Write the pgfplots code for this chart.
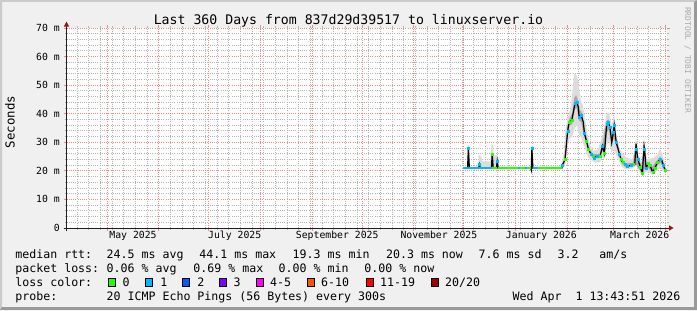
\documentclass[border=0pt]{standalone}
\usepackage{pgfplots}
\pgfplotsset{compat=1.18}
\usepackage{fontspec}
\setmainfont{DejaVu Sans Mono}
\usetikzlibrary{arrows.meta}

\definecolor{bg}{HTML}{F0F0F0}
\definecolor{shadea}{HTML}{CBCBCB}
\definecolor{shadeb}{HTML}{999999}
\definecolor{mgrid}{HTML}{F08888}
\definecolor{sgrid}{HTML}{B4B4B4}
\definecolor{arrowc}{HTML}{A01010}
\definecolor{axisc}{HTML}{202020}
\definecolor{lc0}{HTML}{26FF00}
\definecolor{lc1}{HTML}{00B8FF}
\definecolor{lc2}{HTML}{0059FF}
\definecolor{lc3}{HTML}{7E00FF}
\definecolor{lc4}{HTML}{FF00FF}
\definecolor{lc6}{HTML}{FF5500}
\definecolor{lc11}{HTML}{FF0000}
\definecolor{lc20}{HTML}{A10000}
\definecolor{smokeA}{HTML}{DCDCDC}
\definecolor{smokeB}{HTML}{A8A8A8}
\definecolor{wmark}{HTML}{AAAAAA}

\newcommand\titlef{\fontsize{13.2bp}{15bp}\selectfont}
\newcommand\tickf{\fontsize{9.8bp}{11bp}\selectfont}
\newcommand\legf{\fontsize{11.6bp}{13bp}\selectfont}
\newcommand\unitf{\fontsize{12.4bp}{14bp}\selectfont}
\newcommand\wmf{\fontsize{8bp}{9bp}\selectfont}

\begin{document}
\begin{tikzpicture}[x=1bp,y=1bp]
\fill[bg] (0,0) rectangle (697,310);
\fill[shadea] (0,0) -- (0,310) -- (697,310) -- (694,308) -- (2,308) -- (2,3) -- cycle;
\fill[shadeb] (0,0) -- (697,0) -- (697,310) -- (694,308) -- (694,3) -- (2,3) -- cycle;

\begin{axis}[
  at={(66.5bp,82bp)}, anchor=south west,
  scale only axis, width=600bp, height=200bp,
  xmin=0.572, xmax=360.572, ymin=0, ymax=70,
  axis background/.style={fill=white},
  axis line style={draw=none},
  clip=false,
  tick align=outside,
  major tick length=3bp, minor tick length=2bp,
  every major tick/.append style={mgrid, solid, line width=0.8bp},
  every minor tick/.append style={sgrid, solid, line width=0.8bp},
  every major grid/.append style={mgrid, line width=0.9bp, dash pattern=on 1bp off 1.2bp},
  every minor grid/.append style={sgrid, line width=0.9bp, dash pattern=on 1bp off 1.2bp},
  xtick={25,56,86,117,148,178,209,239,270,301,329,360},
  xticklabels={},
  minor xtick={7,14,...,357},
  xmajorgrids=true, xminorgrids=true,
  extra x ticks={40.5,101.5,163,224,285.5,344.5},
  extra x tick labels={May 2025,July 2025,September 2025,November 2025,January 2026,March 2026},
  extra x tick style={xmajorgrids=false, major tick length=0pt, tick style={draw=none}},
  xticklabel style={font=\tickf, anchor=base, inner sep=0pt, yshift=-10bp},
  ytick={0,10,20,30,40,50,60,70},
  yticklabels={0,10 m,20 m,30 m,40 m,50 m,60 m,70 m},
  minor y tick num=4,
  ymajorgrids=true, yminorgrids=true,
  yticklabel style={font=\tickf, anchor=east, inner sep=0pt, xshift=-3.5bp},
  unbounded coords=jump,
]
% outer smoke
\addplot[fill=smokeA, draw=none] coordinates {
(238.6,21.4)(241.2,21.4)(241.4,29.3)(242.2,29.0)(242.5,21.4)(247.6,21.4)(247.9,25.8)(249.3,25.0)(250.3,23.3)(254.9,23.3)(255.5,29.3)(256.5,29.0)(257.0,25.2)(258.8,25.5)(259.8,24.5)(260.3,21.4)(279.2,21.4)(279.5,28.8)(280.3,28.5)(280.7,21.4)(297.3,21.4)(298.0,23.0)(298.7,25.2)(299.9,34.0)(301.0,38.2)(303.0,41.7)(304.0,47.0)(305.0,53.5)(306.0,54.0)(307.0,52.9)(308.0,49.4)(309.0,45.2)(310.4,42.9)(312.0,37.0)(313.5,31.7)(315.0,28.7)(317.0,27.0)(319.5,27.5)(320.5,29.3)(322.7,33.5)(324.7,40.0)(326.1,40.5)(327.7,35.8)(329.1,39.3)(330.7,31.7)(332.7,27.5)(333.7,26.4)(336.7,24.6)(340.0,24.0)(341.3,27.0)(342.3,31.5)(343.7,25.2)(345.7,22.9)(347.3,31.1)(348.7,24.0)(352.7,24.6)(355.0,25.5)(356.7,27.8)(359.0,24.0)(360.0,22.0)
(360.0,19.5)(359.7,19.0)(357.0,21.0)(355.0,20.3)(352.3,18.7)(349.0,19.8)(347.3,19.2)(346.1,18.5)(344.0,20.0)(342.3,21.8)(340.0,20.8)(336.0,20.5)(334.0,21.3)(332.0,23.5)(330.5,25.5)(329.0,27.5)(327.5,26.5)(326.0,30.5)(324.7,29.0)(323.5,24.5)(322.0,24.5)(320.5,23.0)(318.0,23.0)(316.0,23.5)(314.0,24.5)(312.5,26.5)(311.0,29.0)(309.5,31.5)(308.0,33.0)(306.7,36.0)(305.5,35.0)(304.0,32.0)(302.0,31.0)(300.7,27.0)(299.7,22.5)(298.5,21.0)(297.5,20.5)(238.6,20.5)
} -- cycle;
% inner smoke
\addplot[fill=smokeB, draw=none] coordinates {
(297.7,21.2)(298.7,23.0)(299.8,27.0)(301.0,35.5)(302.5,38.5)(304.0,40.0)(305.2,45.5)(306.3,46.5)(307.3,45.0)(308.3,41.5)(309.5,40.8)(311.0,36.0)(312.5,32.0)(314.0,28.5)(316.0,26.0)(318.5,25.8)(320.5,26.0)(322.3,30.0)(324.5,37.5)(326.0,38.0)(327.5,31.5)(329.0,37.0)(330.5,30.5)(332.5,26.5)(334.0,23.5)(336.5,22.6)(340.5,22.8)(342.3,30.0)(343.5,24.5)(345.5,21.8)(347.3,29.0)(348.5,22.0)(352.0,21.5)(356.7,25.0)(359.0,22.5)(360.0,20.8)
(360.0,20.0)(359.7,20.0)(357.0,22.8)(355.0,22.0)(352.3,19.2)(349.0,21.5)(347.3,20.5)(346.1,19.0)(344.0,20.8)(342.3,22.2)(340.0,21.7)(336.0,21.3)(334.0,22.4)(332.0,25.5)(330.5,28.5)(329.0,31.5)(327.5,29.0)(326.0,34.5)(324.7,33.5)(323.5,25.8)(322.0,27.0)(320.5,24.5)(318.0,24.4)(316.0,24.8)(314.0,26.8)(312.5,29.5)(311.0,32.5)(309.5,37.0)(308.0,37.8)(306.7,42.0)(305.5,41.5)(304.0,36.5)(302.0,35.5)(300.7,31.0)(299.7,23.5)(298.5,21.5)(297.7,20.8)
} -- cycle;
% median (black connector)
\addplot[black, line width=1.2bp] coordinates {
(238.6,20.9)(241.2,20.9)(241.7,27.8)(242.3,20.9)(247.8,20.9)(248.3,22.3)(248.9,20.9)(255.5,20.9)(256.0,26.0)(256.6,20.9)(258.5,20.9)(259.0,23.4)(259.6,20.9)(279.1,20.9)(279.4,20.3)(279.8,27.8)(280.4,20.9)(297.7,20.9)(298.0,21.9)(299.7,24.0)(301.3,34.0)(302.1,37.0)(303.7,37.6)(305.7,43.7)(306.7,44.1)(307.7,42.3)(308.1,38.8)(309.3,39.6)(310.7,37.0)(311.3,33.2)(312.5,30.5)(313.7,27.6)(315.3,25.8)(316.7,25.0)(317.3,24.4)(318.7,25.2)(320.7,25.0)(322.1,28.7)(323.3,26.1)(324.7,36.4)(325.6,37.0)(326.7,35.2)(327.7,29.9)(328.7,33.5)(329.2,36.0)(330.4,30.0)(331.3,28.2)(332.3,26.0)(333.3,24.0)(334.3,22.9)(335.5,22.5)(336.7,21.7)(337.9,21.7)(339.1,21.9)(340.7,22.3)(341.5,22.3)(342.3,29.5)(342.6,27.6)(343.4,24.0)(344.8,21.4)(346.1,19.3)(347.1,28.7)(347.4,27.6)(348.3,21.1)(349.7,22.6)(350.7,21.9)(352.3,19.5)(353.7,21.1)(355.1,22.9)(356.7,24.0)(357.7,23.8)(358.7,21.9)(359.7,20.3)
};
% loss-coloured median, flat stretches
\addplot[lc1, line width=2bp] coordinates {
(238.6,20.9)(241.4,20.9)(241.5,nan)(242.0,20.9)(255.7,20.9)(256,nan)(271.3,20.9)(272.9,20.9)(273,nan)(275.7,20.9)(276.9,20.9)(277,nan)(280.3,20.9)(283.7,20.9)
};
\addplot[lc0, line width=2bp] coordinates {
(255.7,20.9)(258.7,20.9)(259,nan)(259.3,20.9)(271.3,20.9)(272,nan)(272.9,20.9)(275.7,20.9)(276,nan)(276.9,20.9)(279.2,20.9)(280,nan)(283.7,20.9)(297.8,20.9)
};
% loss-coloured median points
\addplot[only marks, mark=square*, mark size=1bp, lc0] coordinates {
(256.0,26.0)(299.7,24.0)(302.1,37.0)(303.7,37.6)(312.5,30.5)(313.7,27.6)(316.7,25.0)(320.7,25.0)(323.3,26.1)(333.3,24.0)(334.3,22.9)(340.7,22.3)(344.8,21.4)(346.1,19.3)(349.7,22.6)(350.7,21.9)(352.3,19.5)(353.7,21.1)(355.1,22.9)(359.7,20.3)
};
\addplot[only marks, mark=square*, mark size=1bp, lc1] coordinates {
(241.7,27.8)(248.3,22.3)(259.0,23.4)(279.8,27.8)(298.0,21.9)(301.3,34.0)(305.7,43.7)(306.7,44.1)(308.1,38.8)(309.3,39.6)(311.3,33.2)(315.3,25.8)(317.3,24.4)(318.7,25.2)(322.1,28.7)(324.7,36.4)(325.6,37.0)(326.7,35.2)(328.7,33.5)(329.2,36.0)(330.4,30.0)(332.3,26.0)(335.5,22.5)(336.7,21.7)(339.1,21.9)(342.6,27.6)(343.4,24.0)(347.4,27.6)(348.3,21.1)(356.7,24.0)(358.7,21.9)
};
\end{axis}

% axis lines and arrows
\draw[axisc, line width=1bp] (63.5,82) -- (669.5,82);
\draw[axisc, line width=1bp] (66.5,79) -- (66.5,284.5);
\fill[arrowc] (669,84.7) -- (673.5,82) -- (669,79.3) -- cycle;
\fill[arrowc] (63.8,283.5) -- (66.5,288.3) -- (69.2,283.5) -- cycle;

% title, unit, watermark
\node[anchor=base, font=\titlef, inner sep=0pt] at (348.5,286) {Last 360 Days from 837d29d39517 to linuxserver.io};
\node[rotate=90, anchor=base, font=\unitf, inner sep=0pt] at (14.5,188) {Seconds};
\node[rotate=-90, anchor=base, font=\wmf, text=wmark, inner sep=0pt] at (685,250) {RRDTOOL / TOBI OETIKER};

% legend
\begin{scope}[every node/.style={anchor=base west, inner sep=0pt, font=\legf}]
\node at (15.2,51.7) {median rtt:};
\node at (106.5,51.7) {24.5 ms avg};
\node at (199.2,51.7) {44.1 ms max};
\node at (292.5,51.7) {19.3 ms min};
\node at (385.9,51.7) {20.3 ms now};
\node at (478.5,51.7) {7.6 ms sd};
\node at (557.5,51.7) {3.2};
\node at (599.2,51.7) {am/s};

\node at (15.2,37.7) {packet loss:};
\node at (106.5,37.7) {0.06 \% avg};
\node at (193.2,37.7) {0.69 \% max};
\node at (278.5,37.7) {0.00 \% min};
\node at (364.2,37.7) {0.00 \% now};

\node at (15.2,24) {loss color:};
\node at (122.5,24) {0};
\node at (160.2,24) {1};
\node at (197.2,24) {2};
\node at (233.5,24) {3};
\node at (269.9,24) {4-5};
\node at (320.9,24) {6-10};
\node at (379.9,24) {11-19};
\node at (444.9,24) {20/20};

\node at (15.2,10) {probe:};
\node at (106.5,10) {20 ICMP Echo Pings (56 Bytes) every 300s};
\node at (512.5,10) {Wed Apr\ \ 1 13:43:51 2026};
\end{scope}
\begin{scope}[draw=black, line width=0.8bp]
\filldraw[fill=lc0] (108.5,23.5) rectangle (115.5,31.5);
\filldraw[fill=lc1] (145.8,23.5) rectangle (152.8,31.5);
\filldraw[fill=lc2] (182.8,23.5) rectangle (189.8,31.5);
\filldraw[fill=lc3] (219.5,23.5) rectangle (226.5,31.5);
\filldraw[fill=lc4] (256.3,23.5) rectangle (263.3,31.5);
\filldraw[fill=lc6] (307.2,23.5) rectangle (314.2,31.5);
\filldraw[fill=lc11] (366.2,23.5) rectangle (373.2,31.5);
\filldraw[fill=lc20] (431.2,23.5) rectangle (438.2,31.5);
\end{scope}
\end{tikzpicture}
\end{document}
